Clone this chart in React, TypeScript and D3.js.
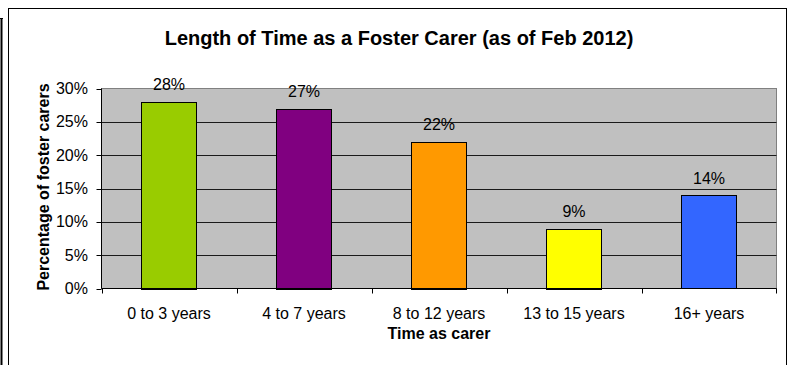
import * as d3 from 'd3';
import React from 'react';

const categories = ['0 to 3 years', '4 to 7 years', '8 to 12 years', '13 to 15 years', '16+ years'];
const values = [28, 27, 22, 9, 14];
const colors = ['#99CC00', '#800080', '#FF9900', '#FFFF00', '#3366FF'];
const yTicks = [0, 5, 10, 15, 20, 25, 30];

const W = 793;
const H = 365;
const font = 'Arial, "Liberation Sans", sans-serif';

const App = () => {
  const plot = { left: 101.5, right: 776.5, top: 88.5, bottom: 288.5 };

  const x = d3.scaleBand().domain(categories).range([plot.left, plot.right]).paddingInner(0.59).paddingOuter(0.295);
  const xOuter = d3.scaleBand().domain(categories).range([plot.left, plot.right]);
  const y = d3.scaleLinear().domain([0, 30]).range([plot.bottom, plot.top]);

  return (
    <svg width={W} height={H} style={{ position: 'absolute', left: 0, top: 0 }} fontFamily={font}>
      <rect width={W} height={H} fill="#fff" />
      {/* outer frame pieces */}
      <line x1={1.5} y1={18} x2={1.5} y2={H} stroke="#000" strokeWidth={2} />
      <line x1={0} y1={18.5} x2={3} y2={18.5} stroke="#000" />
      <rect x={8.5} y={8.5} width={778} height={H + 10} fill="#fff" stroke="#000" />

      <text x={399} y={45} textAnchor="middle" fontSize={20} fontWeight="bold">
        Length of Time as a Foster Carer (as of Feb 2012)
      </text>

      {/* plot area */}
      <rect x={plot.left} y={plot.top} width={plot.right - plot.left} height={plot.bottom - plot.top} fill="#C0C0C0" stroke="#808080" />
      {yTicks.slice(1, -1).map(t => (
        <line key={t} x1={plot.left} x2={plot.right} y1={Math.round(y(t)) + 0.5} y2={Math.round(y(t)) + 0.5} stroke="#1a1a1a" />
      ))}

      {values.map((v, i) => (
        <g key={categories[i]}>
          <rect
            x={Math.round(x(categories[i])!) + 0.5}
            y={Math.round(y(v)) + 0.5}
            width={Math.round(x.bandwidth())}
            height={Math.round(plot.bottom - y(v))}
            fill={colors[i]}
            stroke="#000"
          />
          <text x={x(categories[i])! + x.bandwidth() / 2} y={y(v) - 11.5} textAnchor="middle" fontSize={16} fill="#000">
            {v}%
          </text>
        </g>
      ))}

      {/* y axis */}
      <line x1={plot.left} x2={plot.left} y1={plot.top} y2={plot.bottom} stroke="#000" />
      {yTicks.map(t => (
        <g key={t}>
          <line x1={plot.left - 5} x2={plot.left} y1={Math.round(y(t)) + 0.5} y2={Math.round(y(t)) + 0.5} stroke="#000" />
          <text x={88} y={y(t) + 5.5} textAnchor="end" fontSize={16}>{t}%</text>
        </g>
      ))}
      <text transform={`translate(49,187) rotate(-90)`} textAnchor="middle" fontSize={16} fontWeight="bold">
        Percentage of foster carers
      </text>

      {/* x axis */}
      <line x1={plot.left} x2={plot.right} y1={plot.bottom} y2={plot.bottom} stroke="#000" />
      {categories.map(c => (
        <line key={c} x1={Math.round(xOuter(c)!) + 0.5} x2={Math.round(xOuter(c)!) + 0.5} y1={plot.bottom} y2={plot.bottom + 5} stroke="#000" />
      ))}
      <line x1={plot.right} x2={plot.right} y1={plot.bottom} y2={plot.bottom + 5} stroke="#000" />
      {categories.map(c => (
        <text key={c} x={xOuter(c)! + xOuter.bandwidth() / 2} y={319} textAnchor="middle" fontSize={16}>{c}</text>
      ))}
      <text x={(plot.left + plot.right) / 2} y={339} textAnchor="middle" fontSize={16} fontWeight="bold">
        Time as carer
      </text>
    </svg>
  );
};

export default App;
